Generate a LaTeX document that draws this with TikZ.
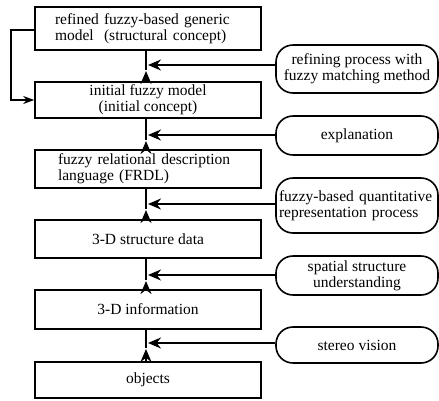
\documentclass[tikz,border=0pt]{standalone}
\usepackage{fontspec}
\setmainfont{Liberation Serif}
\usetikzlibrary{arrows.meta}
\begin{document}
\begin{tikzpicture}[x=1pt,y=-1pt,
  lbox/.style={draw, line width=1.6pt, minimum width=226pt, inner sep=0pt, font=\fontsize{15.5}{16}\selectfont},
  rbox/.style={draw, line width=1.6pt, rounded corners=17pt, minimum width=162pt, inner sep=0pt, align=center, font=\fontsize{15.5}{16}\selectfont},
  conn/.style={line width=2pt},
  tip/.style={-{Stealth[length=13pt,width=11pt]}},
  fbtip/.style={-{Stealth[length=11pt,width=8pt]}}]
\useasboundingbox (0,0) rectangle (439,400);
% left column
\node[lbox, minimum height=43pt, text width=186pt, inner xsep=20pt, align=left] (b1) at (148,28.5) {refined fuzzy-based generic\\model\ \ (structural concept)};
\node[lbox, minimum height=36pt, align=center] (b2) at (148,100) {initial fuzzy model\\(initial concept)};
\node[lbox, minimum height=38pt, text width=180pt, inner xsep=23pt, align=left] (b3) at (148,169) {fuzzy relational description\\language (FRDL)};
\node[lbox, minimum height=38pt] (b4) at (148,239) {3-D structure data};
\node[lbox, minimum height=39pt] (b5) at (148,309.5) {3-D information};
\node[lbox, minimum height=36pt] (b6) at (148,380) {objects};
% right column
\node[rbox, minimum height=48pt] (r1) at (357,69) {refining process with\\fuzzy matching method};
\node[rbox, minimum height=39pt] (r2) at (357,135.5) {explanation};
\node[rbox, minimum height=55pt, text width=156pt, align=left] (r3) at (357,205.5) {fuzzy-based quantitative\\representation process};
\node[rbox, minimum height=39pt] (r4) at (357,275.5) {spatial structure\\understanding};
\node[rbox, minimum height=36pt] (r5) at (357,345) {stereo vision};
% junction coordinates on the spine
\coordinate (j1) at (146,65);
\coordinate (j2) at (146,135);
\coordinate (j3) at (146,204);
\coordinate (j4) at (146,275);
\coordinate (j5) at (146,343);
% vertical arrows
\foreach \lo/\hi/\j in {b2/b1/j1, b3/b2/j2, b4/b3/j3, b5/b4/j4, b6/b5/j5}{
  \draw[conn, tip] (\lo.north -| \j) -- ([yshift=-6pt]\j);
  \draw[conn] ([yshift=-5pt]\j) -- (\hi.south -| \j);
}
% horizontal arrows
\foreach \r/\j in {r1/j1, r2/j2, r3/j3, r4/j4, r5/j5}{
  \draw[conn, tip] (\r.west |- \j) -- ([xshift=2pt]\j);
}
% feedback
\coordinate (f1) at (11,30);
\coordinate (f2) at (11,100);
\draw[conn, fbtip] (b1.west |- f1) -- (f1) -- (f2) -- (b2.west |- f2);
\end{tikzpicture}
\end{document}
